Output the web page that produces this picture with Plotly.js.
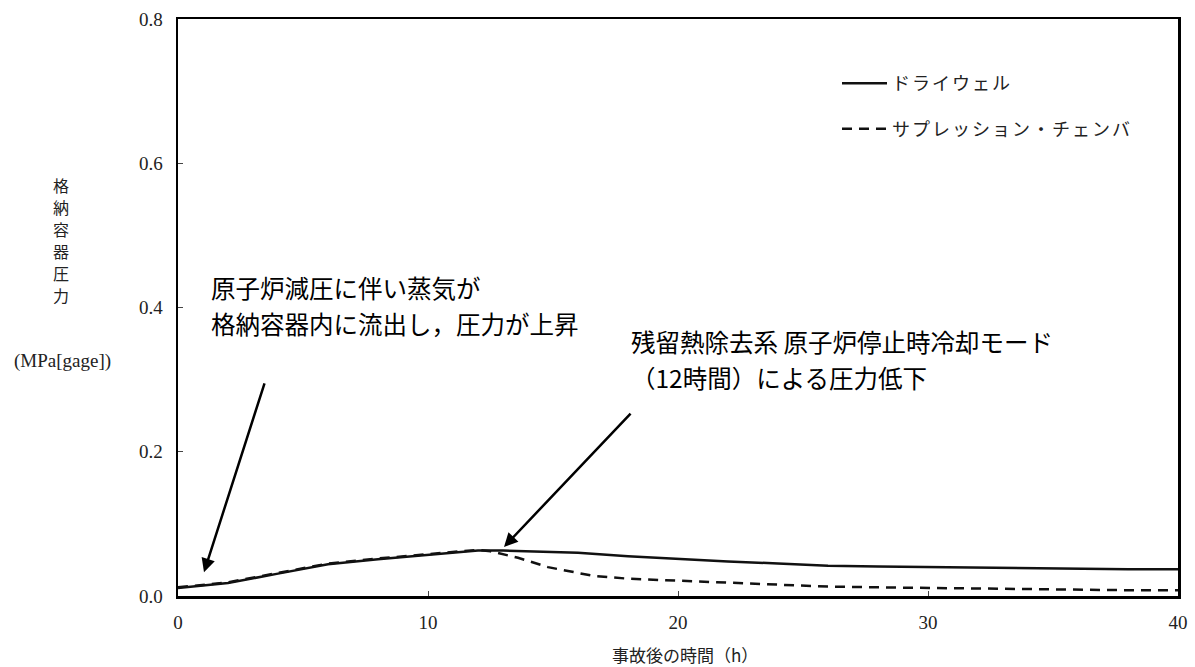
<!DOCTYPE html>
<html>
<head>
<meta charset="utf-8">
<script src="https://cdn.plot.ly/plotly-3.0.1.min.js"></script>
<style>
  html, body { margin: 0; padding: 0; background: #fff; }
  #chart { width: 1195px; height: 667px; }
  .legendtext { letter-spacing: 2px; }
</style>
</head>
<body>
<div id="chart"></div>
<script>
// Time after the accident (h)
const timeDW = [0, 1, 2, 4, 6, 8, 10, 12, 13, 14, 16, 18, 20, 22, 24, 26, 28, 30, 32, 34, 36, 38, 40];
// Drywell pressure (MPa[gage])
const drywell = [0.011, 0.014, 0.018, 0.031, 0.044, 0.051, 0.057, 0.063, 0.063, 0.062, 0.060, 0.055, 0.051, 0.048, 0.045, 0.042, 0.041, 0.040, 0.039, 0.038, 0.038, 0.037, 0.037];

const timeWW = [0, 1, 2, 4, 6, 8, 10, 12, 12.5, 13, 13.6, 14.8, 15.7, 16.6, 18, 20, 22, 24, 26, 28, 30, 32, 34, 36, 38, 40];
// Suppression chamber pressure (MPa[gage])
const wetwell = [0.012, 0.015, 0.019, 0.032, 0.045, 0.052, 0.058, 0.064, 0.062, 0.058, 0.053, 0.040, 0.034, 0.028, 0.024, 0.021, 0.018, 0.016, 0.013, 0.012, 0.011, 0.010, 0.009, 0.008, 0.008, 0.008];

const seriesNames = ['ドライウェル', 'サプレッション・チェンバ'];
const xTicks = [0, 10, 20, 30, 40];
const yTicks = [0.0, 0.2, 0.4, 0.6, 0.8];
const yTitleChars = ['格', '納', '容', '器', '圧', '力'];
const yUnit = '(MPa[gage])';
const xTitle = '事故後の時間（h）';
const note1 = ['原子炉減圧に伴い蒸気が', '格納容器内に流出し，圧力が上昇'];
const note2 = ['残留熱除去系 原子炉停止時冷却モード', '（12時間）による圧力低下'];

const serif = 'Liberation Serif, DejaVu Serif, serif';
const jp = 'Noto Sans CJK JP, sans-serif';
const axisColor = '#222';

// plot frame in pixels, used to place the free-standing titles
const plotLeft = 178, plotRight = 1178, plotTop = 19, plotBottom = 596;
const plotW = plotRight - plotLeft, plotH = plotBottom - plotTop;
const px2x = p => (p - plotLeft) / plotW;
const py = p => (plotBottom - p) / plotH;

const traces = [
  {
    x: timeDW, y: drywell, name: seriesNames[0], legendgroup: 'a',
    mode: 'lines', line: { color: '#111', width: 2.5, dash: 'solid' },
    hoverinfo: 'skip'
  },
  {
    x: timeWW, y: wetwell, name: seriesNames[1], legendgroup: 'b',
    mode: 'lines', line: { color: '#111', width: 2.5, dash: '10px,7px' },
    hoverinfo: 'skip'
  }
];

const annotations = [];

// vertical axis title, one character per line
yTitleChars.forEach((ch, i) => {
  annotations.push({
    xref: 'paper', yref: 'paper', x: px2x(61), y: py(185 + i * 22),
    xanchor: 'center', yanchor: 'middle', text: ch, showarrow: false,
    font: { family: jp, size: 16, color: axisColor }
  });
});
annotations.push({
  xref: 'paper', yref: 'paper', x: px2x(62), y: py(361), xanchor: 'center', yanchor: 'middle',
  text: yUnit, showarrow: false, font: { family: serif, size: 19, color: axisColor }
});
annotations.push({
  xref: 'paper', yref: 'paper', x: px2x(685), y: py(654), xanchor: 'center', yanchor: 'middle',
  text: xTitle, showarrow: false, font: { family: jp, size: 17, color: axisColor }
});

// callout texts, one annotation per line
function addNote(lines, leftPx, firstLinePx, gap) {
  lines.forEach((t, i) => {
    annotations.push({
      xref: 'paper', yref: 'paper', x: px2x(leftPx), y: py(firstLinePx + i * gap),
      xanchor: 'left', yanchor: 'middle', align: 'left', text: t, showarrow: false,
      font: { family: jp, size: 24.5, color: '#000' }
    });
  });
}
addNote(note1, 209, 287.5, 35.5);
addNote(note2, 629, 341.5, 35.5);

// arrows pointing at the curves
annotations.push({
  xref: 'x', yref: 'y', x: 1.04, y: 0.033, axref: 'x', ayref: 'y', ax: 3.48, ay: 0.297,
  showarrow: true, arrowhead: 2, arrowsize: 1.1, arrowwidth: 2.5, arrowcolor: '#000', text: ''
});
annotations.push({
  xref: 'x', yref: 'y', x: 13.04, y: 0.068, axref: 'x', ayref: 'y', ax: 18.16, ay: 0.255,
  showarrow: true, arrowhead: 2, arrowsize: 1.1, arrowwidth: 2.5, arrowcolor: '#000', text: ''
});

const layout = {
  width: 1195, height: 667,
  margin: { l: plotLeft, r: 1195 - plotRight, t: plotTop, b: 667 - plotBottom },
  paper_bgcolor: '#fff', plot_bgcolor: '#fff',
  showlegend: true,
  legend: {
    x: 0.659, y: 0.92, xanchor: 'left', yanchor: 'top',
    bgcolor: 'rgba(0,0,0,0)', tracegroupgap: 19,
    font: { family: jp, size: 18, color: axisColor },
    itemwidth: 45
  },
  xaxis: {
    range: [0, 40], tickvals: xTicks, ticktext: xTicks.map(String),
    showgrid: false, zeroline: false,
    showline: true, linecolor: '#000', linewidth: 2.5, mirror: true,
    ticks: 'inside', ticklen: 5, tickcolor: '#444', tickwidth: 1,
    ticklabelstandoff: 8,
    tickfont: { family: serif, size: 19, color: axisColor },
    fixedrange: true
  },
  yaxis: {
    range: [0, 0.8], tickvals: yTicks, ticktext: yTicks.map(v => v.toFixed(1)),
    showgrid: false, zeroline: false,
    showline: true, linecolor: '#000', linewidth: 2.5, mirror: true,
    ticks: 'inside', ticklen: 5, tickcolor: '#444', tickwidth: 1,
    ticklabelstandoff: 9,
    tickfont: { family: serif, size: 19, color: axisColor },
    fixedrange: true
  },
  annotations: annotations
};

Plotly.newPlot('chart', traces, layout, { staticPlot: true, displayModeBar: false });
</script>
</body>
</html>
